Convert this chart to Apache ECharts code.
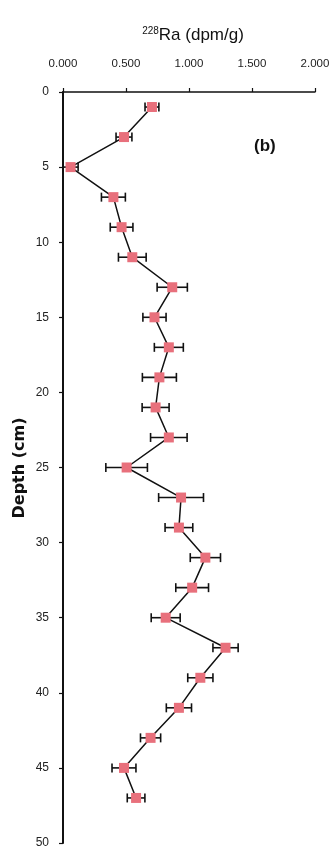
<!DOCTYPE html>
<html>
<head>
<meta charset="utf-8">
<script src="https://cdn.jsdelivr.net/npm/echarts@6/dist/echarts.min.js"></script>
<style>
  html, body { margin: 0; padding: 0; background: #fff; }
  #chart { width: 334px; height: 851px; }
</style>
</head>
<body>
<div id="chart"></div>
<script>
// depth (cm), 228Ra activity (dpm/g) and its error
const depths = [1, 3, 5, 7, 9, 11, 13, 15, 17, 19, 21, 23, 25, 27, 29, 31, 33, 35, 37, 39, 41, 43, 45, 47]
const ra228 = [0.706, 0.484, 0.06, 0.40, 0.465, 0.55, 0.867, 0.726, 0.84, 0.765, 0.735, 0.84, 0.505, 0.937, 0.92, 1.13, 1.025, 0.815, 1.29, 1.09, 0.92, 0.695, 0.484, 0.58]
const ra228Err = [0.055, 0.063, 0.06, 0.095, 0.09, 0.11, 0.12, 0.092, 0.115, 0.135, 0.107, 0.145, 0.165, 0.178, 0.11, 0.12, 0.13, 0.115, 0.10, 0.10, 0.10, 0.08, 0.095, 0.07]
const xTicks = [0, 0.5, 1, 1.5, 2]
const yTicks = [0, 5, 10, 15, 20, 25, 30, 35, 40, 45, 50]

let font = '"Liberation Sans Narrow", "Liberation Sans", Arial, sans-serif'
let chart = echarts.init(document.getElementById('chart'))

let points = depths.map((d, i) => [ra228[i], d])
let errData = depths.map((d, i) => [ra228[i] - ra228Err[i], ra228[i] + ra228Err[i], d])

let option = {
  animation: false,
  backgroundColor: '#fff',
  title: {
    text: '{sup|228}{main|Ra (dpm/g)}',
    left: 188,
    top: 21,
    textAlign: 'center',
    textStyle: {
      fontWeight: 'normal',
      rich: {
        sup: { fontSize: 10, fontFamily: font, fontWeight: 'normal', color: '#111', verticalAlign: 'top', padding: [0, 0, 8, 0] },
        main: { fontSize: 17, fontFamily: font, fontWeight: 'normal', color: '#111' }
      }
    }
  },
  graphic: [
    {
      type: 'text', left: 254, top: 138,
      style: { text: '(b)', font: 'bold 17px Arial, "Liberation Sans", sans-serif', fill: '#111' }
    },
    {
      type: 'text', x: 12, y: 468, rotation: Math.PI / 2,
      style: {
        text: 'Depth (cm)', font: 'bold 16px "DejaVu Sans", sans-serif', fill: '#111',
        align: 'center', verticalAlign: 'top'
      }
    }
  ],
  grid: { left: 63, top: 92, right: 19, bottom: 8 },
  xAxis: {
    type: 'value',
    position: 'top',
    min: 0, max: 2, interval: 0.5,
    axisLine: { show: true, lineStyle: { color: '#111', width: 1.5 } },
    axisTick: { show: true, length: 4, lineStyle: { color: '#111', width: 1.2 } },
    axisLabel: {
      margin: 22, fontSize: 11.5, fontFamily: font, color: '#222',
      formatter: v => xTicks.includes(v) ? v.toFixed(3) : ''
    },
    splitLine: { show: false }
  },
  yAxis: {
    type: 'value',
    inverse: true,
    min: 0, max: 50, interval: 5,
    axisLine: { show: true, lineStyle: { color: '#111', width: 2 } },
    axisTick: { show: true, length: 4, lineStyle: { color: '#111', width: 1.2 } },
    axisLabel: {
      margin: 14, fontSize: 12, fontFamily: font, color: '#222',
      formatter: v => yTicks.includes(v) ? String(v) : ''
    },
    splitLine: { show: false }
  },
  series: [
    {
      type: 'custom',
      z: 3,
      data: errData,
      renderItem: (params, api) => {
        let lo = api.coord([api.value(0), api.value(2)])
        let hi = api.coord([api.value(1), api.value(2)])
        let cap = 4.5
        let style = { stroke: '#111', lineWidth: 1.6 }
        return {
          type: 'group',
          children: [
            { type: 'line', shape: { x1: lo[0], y1: lo[1], x2: hi[0], y2: hi[1] }, style: style },
            { type: 'line', shape: { x1: lo[0], y1: lo[1] - cap, x2: lo[0], y2: lo[1] + cap }, style: style },
            { type: 'line', shape: { x1: hi[0], y1: hi[1] - cap, x2: hi[0], y2: hi[1] + cap }, style: style }
          ]
        }
      }
    },
    {
      type: 'line',
      z: 4,
      data: points,
      symbol: 'rect',
      symbolSize: 10,
      lineStyle: { color: '#111', width: 1.5 },
      itemStyle: { color: '#e8707c', borderWidth: 0 }
    }
  ]
}

chart.setOption(option)
</script>
</body>
</html>
